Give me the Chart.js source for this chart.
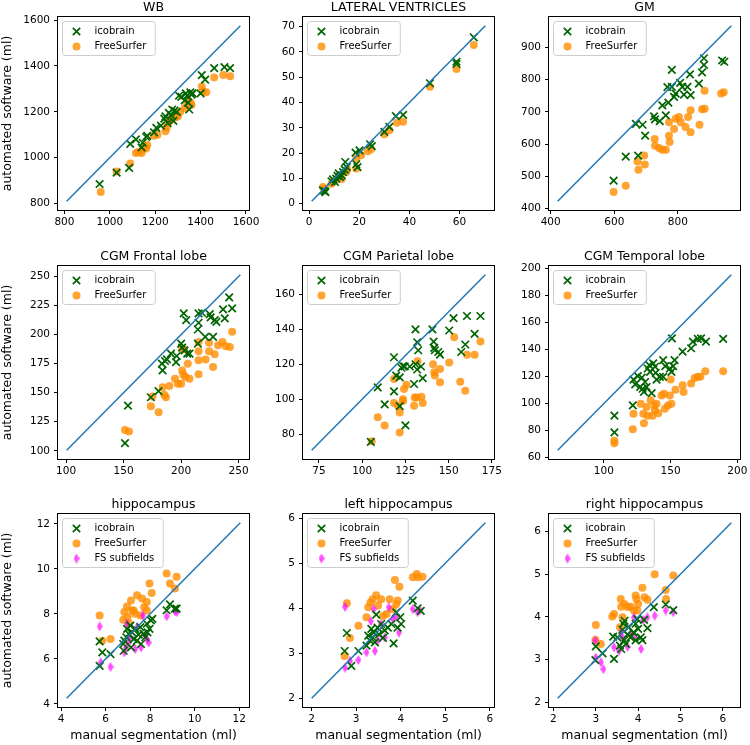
<!DOCTYPE html>
<html>
<head>
<meta charset="utf-8">
<script src="https://cdn.jsdelivr.net/npm/chart.js@4.4.1/dist/chart.umd.min.js"></script>
<style>
  html, body { margin: 0; padding: 0; background: #fff; overflow: hidden; }
  #fig { position: relative; width: 750px; height: 745px; }
  #fig canvas { position: absolute; }
</style>
</head>
<body>
<div id="fig"></div>
<script>
// tên các ô và các chuỗi dữ liệu
const titles = ['WB', 'LATERAL VENTRICLES', 'GM', 'CGM Frontal lobe', 'CGM Parietal lobe',
    'CGM Temporal lobe', 'hippocampus', 'left hippocampus', 'right hippocampus'];
const seriesNames = ['icobrain', 'FreeSurfer', 'FS subfields'];
const xLabel = 'manual segmentation (ml)';
const yLabel = 'automated software (ml)';

// WB
const wbIcobrain = [[955,885],[1030,935],[1085,955],[1090,1060],[1115,1080],[1140,1045],[1145,1065],[1160,1090],[1165,1095],[1195,1110],[1205,1130],[1225,1140],[1240,1170],[1245,1180],[1255,1150],[1260,1195],[1270,1185],[1275,1210],[1280,1160],[1285,1205],[1295,1200],[1305,1270],[1315,1265],[1330,1250],[1335,1280],[1340,1270],[1345,1240],[1350,1210],[1355,1285],[1360,1275],[1365,1280],[1400,1280],[1405,1360],[1420,1340],[1460,1390],[1505,1395],[1530,1390]];
const wbFreeSurfer = [[960,850],[1030,940],[1090,975],[1115,1020],[1125,1025],[1140,1020],[1145,1035],[1150,1050],[1160,1040],[1165,1055],[1195,1095],[1210,1100],[1245,1115],[1250,1130],[1255,1150],[1265,1160],[1270,1170],[1290,1175],[1300,1180],[1310,1200],[1330,1215],[1340,1230],[1345,1250],[1355,1240],[1360,1230],[1405,1310],[1410,1290],[1425,1285],[1460,1350],[1500,1360],[1530,1355]];
const wbLine = [810, 1575];
const wbTicksX = [800, 1000, 1200, 1400, 1600];
const wbTicksY = [800, 1000, 1200, 1400, 1600];

// LATERAL VENTRICLES
const lvIcobrain = [[5.5,5.3],[6.2,5.0],[6.5,4.6],[8.9,8.9],[9.5,9.6],[10.3,8.6],[10.8,9.9],[11.3,11.0],[11.8,12.0],[12.3,10.6],[13.0,11.2],[13.5,12.5],[14.2,13.5],[14.4,16.5],[15.0,14.5],[18.5,20.2],[18.8,15.6],[19.3,14.5],[20.1,21.1],[24.3,23.5],[25.0,22.8],[30.0,28.4],[32.0,30.4],[34.6,34.6],[37.5,35.1],[48.2,47.6],[58.8,56.1],[58.8,55.2],[65.7,65.7]];
const lvFreeSurfer = [[5.5,6.6],[6.0,5.8],[8.9,7.9],[9.5,8.6],[10.5,9.3],[12.2,10.6],[13.0,9.8],[14.8,12.5],[15.2,13.6],[18.8,13.9],[18.8,17.8],[20.7,19.2],[23.4,20.7],[24.7,21.5],[30.0,27.5],[32.0,29.0],[35.0,32.0],[37.5,32.4],[48.2,46.2],[58.8,53.2],[65.7,62.7]];
const lvLine = [1, 70.3];
const lvTicksX = [0, 20, 40, 60];
const lvTicksY = [0, 10, 20, 30, 40, 50, 60, 70];

// GM
const gmIcobrain = [[598,486],[636,561],[675,564],[668,663],[689,660],[697,626],[725,686],[728,677],[743,671],[751,720],[762,689],[770,729],[767,777],[781,831],[781,778],[793,757],[788,747],[807,790],[814,778],[819,754],[830,778],[838,817],[840,752],[866,788],[876,823],[882,846],[882,867],[939,860],[946,856]];
const gmFreeSurfer = [[598,451],[636,470],[673,546],[676,520],[696,536],[694,564],[727,616],[728,595],[741,588],[751,582],[762,582],[772,626],[774,606],[772,668],[788,647],[793,679],[803,684],[809,668],[824,653],[832,684],[840,705],[840,637],[868,660],[876,708],[884,710],[884,766],[936,757],[944,761]];
const gmLine = [422, 968];
const gmTicksX = [400, 600, 800];
const gmTicksY = [400, 500, 600, 700, 800, 900];

// CGM Frontal lobe
const frIcobrain = [[151.2,106.6],[153.8,138.9],[173.7,146.1],[180.4,151.3],[183.9,169.2],[183.3,175],[186,177.3],[187.7,178.7],[191.2,183.6],[195.6,176.4],[196.2,181.6],[200,192.3],[200.9,188.8],[202.9,186.5],[205.3,183.6],[207.3,183.6],[202.3,218.3],[204.4,212.5],[214.6,192.3],[214.6,204.4],[215.2,210.2],[215.2,218.3],[218.1,218.8],[221,198],[224.9,217.7],[225.7,214.8],[229.2,212.5],[227.8,198],[230.7,211],[236.5,221.7],[238,213.9],[241.8,232.1],[244.4,222.6]];
const frFreeSurfer = [[151.2,117.9],[154.7,116.7],[173.7,138.4],[180.4,133.2],[175.1,146.7],[183.9,154.8],[185.4,148.2],[186.8,146.1],[189.8,155.7],[194.7,162],[197.1,157.7],[200,157.7],[200.9,169.2],[202,165.5],[203.8,163.5],[205.8,175],[207.3,162],[200.9,188],[202.9,187.1],[215.2,165.8],[215.2,177.9],[215.2,185.7],[215.2,193.7],[221.3,178.5],[224.3,185.7],[224.3,192.9],[227.8,172.1],[229.2,183.1],[232.2,190.9],[236,193.7],[238.9,190],[242.4,189.4],[244.4,202.4]];
const frLine = [100.5, 251.5];
const frTicksX = [100, 150, 200, 250];
const frTicksY = [100, 125, 150, 175, 200, 225, 250];

// CGM Parietal lobe
const paIcobrain = [[105,75.6],[109,106.8],[113,97],[118.4,124],[118.4,104.5],[119.7,113.5],[121.7,112.5],[121.7,96],[122.7,118],[123.6,119],[124.6,118.7],[125,85],[127.5,118.7],[130,108.7],[130.8,140],[131.8,132.6],[132.4,128],[130.8,120],[131.8,117],[134,118.7],[135,112],[140.6,140],[141.3,133],[141.7,129.4],[142,128],[144,127],[145,125.5],[150.3,139.3],[152.8,146.4],[157.3,127],[159.6,131.3],[160.6,147.6],[165,137.4],[168.4,147.6]];
const paFreeSurfer = [[105.5,76],[109,89.6],[113,85],[118.4,111.6],[118.4,97.8],[120.7,96.3],[121.7,92.4],[121.7,81],[123.6,100],[123.6,99],[124.2,105.8],[125.6,108.3],[130,96.3],[130.4,101],[131.4,101],[132,121.7],[134.3,101.4],[135,97.8],[141,120],[141.7,115.4],[142,113.5],[145,117.3],[145,109.7],[150.3,121],[153.2,135.5],[156.7,110],[159.6,104.9],[160.6,125.4],[165,125.4],[168.4,133]];
const paLine = [70.8, 171.2];
const paTicksX = [75, 100, 125, 150, 175];
const paTicksY = [80, 100, 120, 140, 160];

// CGM Temporal lobe
const teIcobrain = [[107.9,91],[107.9,78.7],[121.7,98.6],[122.2,117.8],[123.5,114.3],[125.4,120.3],[127.2,112.3],[128.4,119.3],[129,111],[130,108.6],[130.9,116],[132,112.3],[132.8,126],[134,128.5],[134.6,123.5],[135.8,107.8],[137,129.8],[138.3,127.3],[138.8,122.8],[139.5,117.8],[142,119.8],[144.4,132.2],[144.4,119.8],[146,127.8],[151,148.4],[149.4,126],[150.6,123.5],[151.9,127.8],[153,132.2],[159,138.5],[165.4,141],[166.7,146],[170.4,148],[172.8,148.4],[176.5,146],[189.4,148]];
const teFreeSurfer = [[107.9,72.5],[107.9,70.5],[121.7,81],[122.2,92.4],[127.6,99.9],[129.6,92.4],[130,85.4],[132,97.4],[132.8,91],[135,102.4],[136.5,91],[137.8,98.6],[138.2,95],[139.5,99.9],[140.7,92.8],[143.2,106],[145,107.3],[145.7,96.1],[148,98.6],[149.4,106],[150,117.8],[150.6,99.9],[153.6,110.3],[159,113.5],[159.7,108.6],[165.4,114.8],[168,119],[170.4,119.8],[172.3,119.8],[176,124],[189.4,124]];
const teLine = [65.4, 195.5];
const teTicksX = [100, 150, 200];
const teTicksY = [60, 80, 100, 120, 140, 160, 180, 200];

// hippocampus
const hiIcobrain = [[5.73,5.69],[5.73,6.78],[5.85,6.29],[6.22,6.21],[6.81,6.36],[6.79,6.66],[6.84,6.81],[6.93,6.96],[6.96,7.33],[7.04,7.11],[7.11,7.48],[7.14,6.51],[7.19,7.18],[7.26,6.88],[7.33,7.33],[7.41,6.81],[7.48,7.08],[7.56,7.41],[7.59,6.66],[7.7,7.11],[7.78,6.96],[7.85,7.56],[7.88,7.18],[7.97,7.33],[8.03,7.71],[8.1,7.78],[8.74,8.16],[8.89,8.42],[9.11,8.23],[9.19,8.23]];
const hiFreeSurfer = [[5.73,7.93],[5.85,6.81],[6.22,6.88],[6.79,7.74],[6.84,8.08],[6.96,8.33],[6.99,7.86],[7.04,7.59],[7.14,8.6],[7.19,8.15],[7.26,8.15],[7.33,8.0],[7.41,8.83],[7.56,7.93],[7.63,8.68],[7.73,8.3],[7.85,8.53],[7.85,8.15],[7.97,9.35],[8.07,8.93],[8.74,9.8],[8.89,9.35],[9.11,9.13],[9.19,9.65]];
const hiSubfields = [[5.73,7.44],[5.78,5.84],[6.22,5.64],[6.84,6.29],[6.93,6.51],[6.96,7.56],[7.04,6.73],[7.11,6.96],[7.33,6.44],[7.41,7.41],[7.59,6.51],[7.67,7.93],[7.78,7.03],[7.85,6.88],[7.93,6.73],[8.74,7.89],[9.11,8.13],[9.19,8.08]];
const hiLine = [4.25, 12.05];
const hiTicksX = [4, 6, 8, 10, 12];
const hiTicksY = [4, 6, 8, 10, 12];

// left hippocampus
const lhIcobrain = [[2.74,3.05],[2.79,3.45],[2.89,2.72],[3.05,3.05],[3.23,3.17],[3.27,3.39],[3.31,3.28],[3.34,3.54],[3.37,3.35],[3.39,3.46],[3.42,3.24],[3.45,3.86],[3.48,3.57],[3.51,3.42],[3.56,3.65],[3.6,3.34],[3.64,3.51],[3.71,3.57],[3.79,3.65],[3.84,3.22],[3.9,3.91],[3.93,3.57],[3.99,3.8],[4.01,3.65],[4.27,4.17],[4.38,4.0],[4.45,3.94]];
const lhFreeSurfer = [[2.74,2.94],[2.79,4.11],[2.86,3.34],[3.05,3.61],[3.23,3.8],[3.27,4.02],[3.32,4.13],[3.37,4.2],[3.45,4.29],[3.49,4.06],[3.56,4.2],[3.6,3.83],[3.68,3.87],[3.75,4.2],[3.82,3.98],[3.9,4.09],[3.93,4.17],[3.87,4.63],[3.97,4.48],[4.27,4.69],[4.36,4.76],[4.38,4.69],[4.49,4.7]];
const lhSubfields = [[2.75,4.03],[2.75,2.68],[2.86,2.83],[3.05,2.85],[3.23,3.02],[3.33,3.71],[3.39,3.98],[3.42,3.05],[3.49,3.29],[3.56,3.65],[3.64,3.35],[3.73,4.02],[3.82,3.76],[3.9,3.81],[3.96,3.46],[4.27,3.98],[4.38,3.91],[4.43,3.96]];
const lhLine = [2.0, 5.9];
const lhTicksX = [2, 3, 4, 5, 6];
const lhTicksY = [2, 3, 4, 5, 6];

// right hippocampus
const rhIcobrain = [[2.99,2.99],[3.0,3.31],[3.16,3.15],[3.43,3.02],[3.41,3.54],[3.51,3.52],[3.57,3.33],[3.6,3.25],[3.63,3.7],[3.65,3.84],[3.67,3.46],[3.68,3.91],[3.71,3.37],[3.75,3.59],[3.78,3.76],[3.82,3.52],[3.89,3.64],[3.94,3.84],[3.94,3.45],[3.98,3.95],[4.0,3.72],[4.06,3.52],[4.1,3.46],[4.14,3.93],[4.22,3.74],[4.37,4.23],[4.65,4.29],[4.83,4.16]];
const rhFreeSurfer = [[2.99,3.46],[3.0,3.81],[3.12,3.37],[3.39,4.01],[3.43,4.07],[3.57,3.76],[3.59,4.42],[3.6,4.24],[3.63,3.99],[3.68,4.3],[3.75,4.23],[3.82,4.24],[3.9,4.15],[3.94,4.5],[3.96,4.42],[3.98,4.15],[4.0,4.3],[4.1,4.68],[4.15,4.46],[4.22,4.4],[4.39,5.0],[4.65,4.63],[4.66,4.42],[4.83,4.97]];
const rhSubfields = [[2.99,3.45],[3.0,3.05],[3.12,2.94],[3.18,2.78],[3.43,3.29],[3.55,3.21],[3.59,3.64],[3.63,3.52],[3.75,3.3],[3.82,3.6],[3.9,3.99],[3.94,3.52],[4.07,3.25],[4.12,3.93],[4.22,3.99],[4.39,4.03],[4.65,4.15],[4.83,4.11]];
const rhLine = [2.1, 6.2];
const rhTicksX = [2, 3, 4, 5, 6];
const rhTicksY = [2, 3, 4, 5, 6];

// bố cục (pixel)
const colLeft = [58, 303, 549];
const rowTop = [17, 266, 514];
const frameW = 191, frameH = 193;
const padL = [58, 44, 44], padT = 17, padR = 14, padB = [20, 20, 38];
const FONT = "'DejaVu Sans', sans-serif";

const panels = [
    {line: wbLine, tx: wbTicksX, ty: wbTicksY, sets: [wbIcobrain, wbFreeSurfer]},
    {line: lvLine, tx: lvTicksX, ty: lvTicksY, sets: [lvIcobrain, lvFreeSurfer]},
    {line: gmLine, tx: gmTicksX, ty: gmTicksY, sets: [gmIcobrain, gmFreeSurfer]},
    {line: frLine, tx: frTicksX, ty: frTicksY, sets: [frIcobrain, frFreeSurfer]},
    {line: paLine, tx: paTicksX, ty: paTicksY, sets: [paIcobrain, paFreeSurfer]},
    {line: teLine, tx: teTicksX, ty: teTicksY, sets: [teIcobrain, teFreeSurfer]},
    {line: hiLine, tx: hiTicksX, ty: hiTicksY, sets: [hiIcobrain, hiFreeSurfer, hiSubfields]},
    {line: lhLine, tx: lhTicksX, ty: lhTicksY, sets: [lhIcobrain, lhFreeSurfer, lhSubfields]},
    {line: rhLine, tx: rhTicksX, ty: rhTicksY, sets: [rhIcobrain, rhFreeSurfer, rhSubfields]}
];

// hình thoi mảnh cho FS subfields
function makeDiamond(w, h, color) {
    const c = document.createElement('canvas');
    c.width = w; c.height = h;
    const g = c.getContext('2d');
    g.fillStyle = color;
    g.beginPath();
    g.moveTo(w / 2, 0); g.lineTo(w, h / 2); g.lineTo(w / 2, h); g.lineTo(0, h / 2);
    g.closePath();
    g.fill();
    return c;
}
const diamond = makeDiamond(6, 10, 'rgba(255,0,255,0.7)');

const GREEN = '#006400';
const ORANGE = 'rgba(255,140,0,0.8)';

function drawMarker(ctx, i, x, y) {
    if (i === 0) {
        const d = 3.7;
        ctx.strokeStyle = GREEN; ctx.lineWidth = 1.7;
        ctx.beginPath();
        ctx.moveTo(x - d, y - d); ctx.lineTo(x + d, y + d);
        ctx.moveTo(x - d, y + d); ctx.lineTo(x + d, y - d);
        ctx.stroke();
    } else if (i === 1) {
        ctx.fillStyle = ORANGE;
        ctx.beginPath(); ctx.arc(x, y, 4, 0, Math.PI * 2); ctx.fill();
    } else {
        ctx.drawImage(diamond, x - 3, y - 5);
    }
}

// khung trục + chú giải bên trong vùng vẽ
const boxLegend = {
    id: 'boxLegend',
    afterDatasetsDraw(chart, args, opts) {
        const {ctx, chartArea: a} = chart;
        ctx.save();
        ctx.strokeStyle = '#000'; ctx.lineWidth = 1;
        ctx.strokeRect(a.left - 0.5, a.top - 0.5, a.right - a.left + 1, a.bottom - a.top + 1);

        const names = seriesNames.slice(0, opts.n);
        ctx.font = '10px ' + FONT;
        const tw = Math.max(...names.map(t => ctx.measureText(t).width));
        const bx = a.left + 4.5, by = a.top + 4.5;
        const bw = 32 + tw + 9, bh = 19 + (opts.n - 1) * 15, r = 3;
        ctx.beginPath();
        ctx.moveTo(bx + r, by);
        ctx.arcTo(bx + bw, by, bx + bw, by + bh, r);
        ctx.arcTo(bx + bw, by + bh, bx, by + bh, r);
        ctx.arcTo(bx, by + bh, bx, by, r);
        ctx.arcTo(bx, by, bx + bw, by, r);
        ctx.closePath();
        ctx.fillStyle = 'rgba(255,255,255,0.8)';
        ctx.fill();
        ctx.strokeStyle = '#cccccc';
        ctx.stroke();

        names.forEach((t, i) => {
            const cy = by + 10 + i * 15;
            drawMarker(ctx, i, bx + 14, cy);
            ctx.fillStyle = '#000';
            ctx.textBaseline = 'middle';
            ctx.textAlign = 'left';
            ctx.fillText(t, bx + 32, cy);
        });
        ctx.restore();
    }
};

function toPts(arr) {
    return arr.map(p => ({x: p[0], y: p[1]}));
}

const fig = document.getElementById('fig');

panels.forEach((p, i) => {
    const r = Math.floor(i / 3), c = i % 3;
    const W = padL[c] + frameW + padR, H = padT + frameH + padB[r];
    const canvas = document.createElement('canvas');
    canvas.width = W; canvas.height = H;
    canvas.style.left = (colLeft[c] - padL[c]) + 'px';
    canvas.style.top = (rowTop[r] - padT) + 'px';
    canvas.style.width = W + 'px'; canvas.style.height = H + 'px';
    fig.appendChild(canvas);

    const lo = p.line[0], hi = p.line[1], m = (hi - lo) * 0.05;

    const datasets = [{
        data: toPts([[lo, lo], [hi, hi]]),
        showLine: true, pointRadius: 0, borderColor: '#1f77b4', borderWidth: 1.5
    }, {
        data: toPts(p.sets[0]),
        pointStyle: 'crossRot', pointRadius: 5.3, borderColor: GREEN, backgroundColor: GREEN, borderWidth: 1.7
    }];
    if (p.sets[2]) {
        datasets.push({data: toPts(p.sets[2]), pointStyle: diamond, pointRadius: 5});
    }
    datasets.push({
        data: toPts(p.sets[1]),
        pointStyle: 'circle', pointRadius: 4, backgroundColor: ORANGE, borderColor: ORANGE, borderWidth: 0
    });

    const tickFont = {family: FONT, size: 10.5};
    const labelFont = {family: FONT, size: 12.5, lineHeight: 1.2};

    new Chart(canvas, {
        type: 'scatter',
        data: {datasets: datasets},
        options: {
            responsive: false,
            animation: false,
            devicePixelRatio: 1,
            layout: {padding: {left: 0, top: 0, right: padR, bottom: 0}},
            plugins: {
                legend: {display: false},
                tooltip: {enabled: false},
                title: {
                    display: true, text: titles[i], color: '#000', fullSize: false,
                    font: {family: FONT, size: 12.5, weight: 'normal', lineHeight: 1.2},
                    padding: {top: 0, bottom: 2}
                },
                boxLegend: {n: p.sets.length}
            },
            scales: {
                x: {
                    type: 'linear', position: 'bottom', min: lo - m, max: hi + m,
                    afterBuildTicks: s => { s.ticks = p.tx.map(v => ({value: v})); },
                    afterFit: s => { s.height = padB[r]; },
                    ticks: {font: tickFont, color: '#000', padding: 2, autoSkip: false, maxRotation: 0,
                        callback: v => String(v)},
                    grid: {drawOnChartArea: false, drawTicks: true, tickLength: 4, color: '#000', lineWidth: 1},
                    border: {display: false},
                    title: {display: r === 2, text: xLabel, color: '#000', font: labelFont,
                        padding: {top: 0, bottom: 1.5}}
                },
                y: {
                    type: 'linear', position: 'left', min: lo - m, max: hi + m,
                    afterBuildTicks: s => { s.ticks = p.ty.map(v => ({value: v})); },
                    afterFit: s => { s.width = padL[c]; },
                    ticks: {font: tickFont, color: '#000', padding: 4, autoSkip: false,
                        callback: v => String(v)},
                    grid: {drawOnChartArea: false, drawTicks: true, tickLength: 4, color: '#000', lineWidth: 1},
                    border: {display: false},
                    title: {display: c === 0, text: yLabel, color: '#000', font: labelFont,
                        padding: {top: 0.5, bottom: 0}}
                }
            }
        },
        plugins: [boxLegend]
    });
});
</script>
</body>
</html>
